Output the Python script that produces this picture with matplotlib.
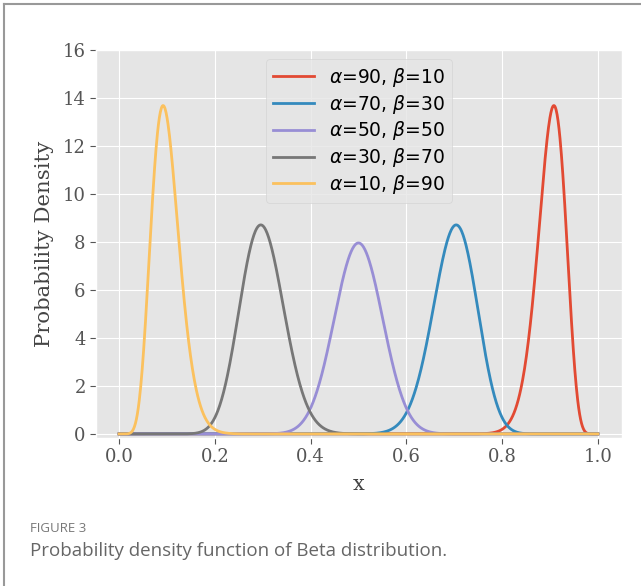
import math
import numpy as np
import matplotlib
matplotlib.use("Agg")
import matplotlib.pyplot as plt
from matplotlib.lines import Line2D

# Beta distribution parameters (from legend)
alphas = [90, 70, 50, 30, 10]
betas = [10, 30, 50, 70, 90]
colors = ["#E24A33", "#348ABD", "#988ED5", "#777777", "#FBC15E"]
xticks = [0.0, 0.2, 0.4, 0.6, 0.8, 1.0]
yticks = [0, 2, 4, 6, 8, 10, 12, 14, 16]

def beta_pdf(x, a, b):
    lb = math.lgamma(a) + math.lgamma(b) - math.lgamma(a + b)
    out = np.zeros_like(x)
    m = (x > 0) & (x < 1)
    out[m] = np.exp((a - 1) * np.log(x[m]) + (b - 1) * np.log(1 - x[m]) - lb)
    return out

plt.style.use("ggplot")
fig = plt.figure(figsize=(6.41, 5.86), dpi=100)
ax = fig.add_axes([0.150, 0.2526, 0.820, 0.662])

x = np.linspace(0, 1, 1000)
for a, b, c in zip(alphas, betas, colors):
    ax.plot(x, beta_pdf(x, a, b), color=c, lw=2,
            label=r"$\alpha$=%d, $\beta$=%d" % (a, b))

ax.set_xlim(-0.048, 1.05)
ax.set_ylim(-0.17, 16)
ax.set_xticks(xticks)
ax.set_yticks(yticks)
ax.set_xticklabels(["%.1f" % t for t in xticks], family="DejaVu Serif", fontsize=13, color="#555555")
ax.set_yticklabels([str(t) for t in yticks], family="DejaVu Serif", fontsize=13, color="#555555")
ax.set_xlabel("x", family="DejaVu Serif", fontsize=15, color="#444444", labelpad=6)
ax.set_ylabel("Probability Density", family="DejaVu Serif", fontsize=15.3, color="#444444", labelpad=6)
ax.tick_params(axis="both", direction="out", length=4, color="#555555")

leg = ax.legend(loc="upper center", fontsize=13.5, framealpha=0.8,
                facecolor="#E5E5E5", edgecolor="#D0D0D0", handlelength=2.2,
                borderpad=0.35, labelspacing=0.2)

# figure caption
fig.text(0.047, 0.092, "FIGURE 3", fontsize=9.5, color="#777777", family="Open Sans", va="baseline")
fig.text(0.047, 0.051, "Probability density function of Beta distribution.",
         fontsize=13.5, color="#666666", family="Open Sans", va="baseline")

# border lines (top and left)
fig.add_artist(Line2D([0.0065, 0.0065], [0.0, 0.993], transform=fig.transFigure, color="#999999", lw=1.5))
fig.add_artist(Line2D([0.0065, 1.0], [0.993, 0.993], transform=fig.transFigure, color="#999999", lw=1.5))

fig.savefig("out.png", dpi=100, facecolor="white")
